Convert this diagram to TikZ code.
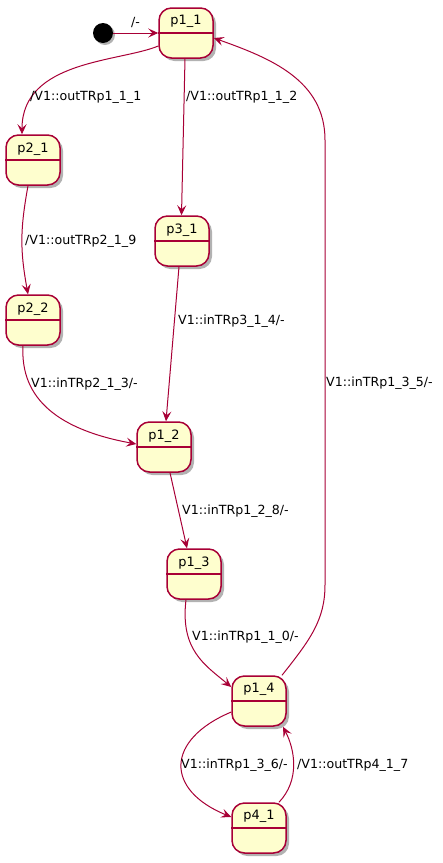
\documentclass[tikz,border=0pt]{standalone}
\usepackage{fontspec}
\setmainfont{DejaVu Sans}
\usetikzlibrary{arrows.meta,shadows,calc}
\definecolor{pred}{HTML}{A80036}
\definecolor{pfill}{HTML}{FEFECE}
\tikzset{
  stbox/.style={draw=pred, line width=1.5pt, fill=pfill, rounded corners=12.5pt,
    minimum width=54pt, minimum height=50pt, inner sep=0pt,
    drop shadow={shadow xshift=3pt, shadow yshift=-3pt, fill=black, opacity=0.3}},
  sttext/.style={inner sep=0pt, font=\fontsize{12.9}{15}\selectfont, anchor=center},
  lbl/.style={inner sep=0pt, anchor=west, font=\fontsize{12.6}{15}\selectfont},
  tr/.style={draw=pred, line width=1pt, -{Stealth[length=10pt,width=9pt,inset=4pt]}},
  initdot/.style={circle, fill=black, minimum size=20pt, inner sep=0pt,
    drop shadow={shadow xshift=2pt, shadow yshift=-2pt, fill=black, opacity=0.3}}
}
\newcommand{\mkstate}[4]{%
  \node[stbox] (#1) at (#2,-#3) {};
  \draw[draw=pred, line width=1.5pt] (#1.west) -- (#1.east);
  \node[sttext] (#1t) at ($(#1.north)+(0,-14.5)$) {#4};
}
\begin{document}
\begin{tikzpicture}[x=1pt,y=1pt]
\useasboundingbox (0,0) rectangle (443,-863);
\node[initdot] (init) at (103,-33) {};
\mkstate{p11}{186}{33}{p1\_1}
\mkstate{p21}{33}{160}{p2\_1}
\mkstate{p31}{182}{241}{p3\_1}
\mkstate{p22}{33}{320}{p2\_2}
\mkstate{p12}{164}{447}{p1\_2}
\mkstate{p13}{194}{574}{p1\_3}
\mkstate{p14}{259}{701}{p1\_4}
\mkstate{p41}{259}{828}{p4\_1}

% transitions
\draw[tr] (init.east) -- (p11.west);
\draw[tr] ([yshift=-13]p11.west) .. controls (120,-62) and (22,-60) .. ([xshift=-11]p21.north);
\draw[tr] ([xshift=-1]p11.south) -- ([xshift=-0.5]p31.north);
\draw[tr] ([xshift=-5]p21.south) .. controls (20,-230) and (20,-250) .. ([xshift=-5]p22.north);
\draw[tr] ([xshift=-3]p31.south) -- ([xshift=2]p12.north);
\draw[tr] ([xshift=-10]p22.south) .. controls (20,-400) and (60,-430) .. ([yshift=3]p12.west);
\draw[tr] ([xshift=6]p12.south) -- ([xshift=-7]p13.north);
\draw[tr] ([xshift=-8]p13.south) .. controls (180,-650) and (205,-665) .. ([yshift=14]p14.west);
\draw[tr] ([xshift=23]p14.north) .. controls (310,-640) and (325,-620) .. (325,-585) -- (325,-140) .. controls (325,-80) and (270,-58) .. ([yshift=-5]p11.east);
\draw[tr] ([yshift=-11]p14.west) .. controls (165,-740) and (165,-790) .. ([yshift=11]p41.west);
\draw[tr] ([xshift=20]p41.north) .. controls (300,-780) and (295,-750) .. ([xshift=24]p14.south);

% labels
\node[lbl] (l0) at (131,-22) {/-};
\node[lbl] (l1) at (30,-97) {/V1::outTRp1\_1\_1};
\node[lbl] (l2) at (186,-97) {/V1::outTRp1\_1\_2};
\node[lbl] (l3) at (25,-241) {/V1::outTRp2\_1\_9};
\node[lbl] (l4) at (178,-321) {V1::inTRp3\_1\_4/-};
\node[lbl] (l5) at (31,-384) {V1::inTRp2\_1\_3/-};
\node[lbl] (l6) at (182,-511) {V1::inTRp1\_2\_8/-};
\node[lbl] (l7) at (192,-637) {V1::inTRp1\_1\_0/-};
\node[lbl] (l8) at (326,-383) {V1::inTRp1\_3\_5/-};
\node[lbl] (l9) at (181,-765) {V1::inTRp1\_3\_6/-};
\node[lbl] (l10) at (297,-765) {/V1::outTRp4\_1\_7};
\end{tikzpicture}
\end{document}
